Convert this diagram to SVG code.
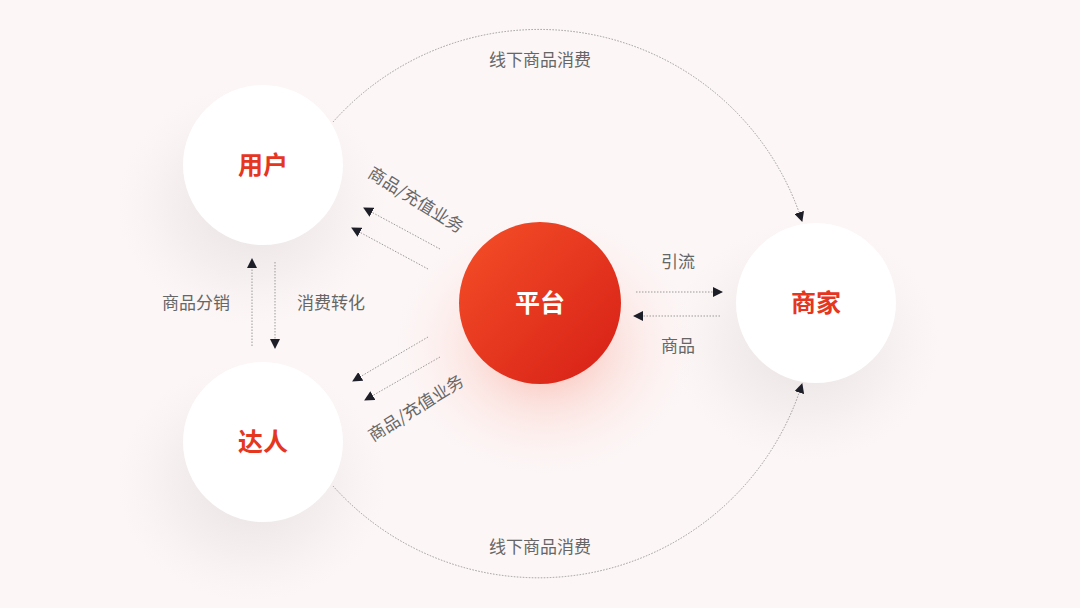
<svg xmlns="http://www.w3.org/2000/svg" width="1080" height="608" viewBox="0 0 1080 608">
<defs>
<style>
.lbl{font-family:"Noto Sans CJK SC","Noto Sans",sans-serif;font-size:17px;fill:#666;}
.node-txt{font-family:"Noto Sans CJK SC","Noto Sans",sans-serif;font-size:25px;font-weight:bold;fill:#e5361f;}
.line{fill:none;stroke:#9a9a9a;stroke-width:1;stroke-dasharray:1.5 1.5;}
.white{fill:#ffffff;}
</style>
<linearGradient id="red" x1="0" y1="0" x2="1" y2="1">
<stop offset="0" stop-color="#f54f28"/>
<stop offset="1" stop-color="#d61f16"/>
</linearGradient>
<radialGradient id="glow" cx="0.5" cy="0.5" r="0.5">
<stop offset="0" stop-color="#f8705a" stop-opacity="0.55"/>
<stop offset="0.5" stop-color="#fbb0a2" stop-opacity="0.25"/>
<stop offset="1" stop-color="#fde8e4" stop-opacity="0"/>
</radialGradient>
<radialGradient id="shadow" cx="0.5" cy="0.5" r="0.5">
<stop offset="0" stop-color="#d8cfcf" stop-opacity="0.6"/>
<stop offset="0.6" stop-color="#e6dede" stop-opacity="0.3"/>
<stop offset="1" stop-color="#f2eaea" stop-opacity="0"/>
</radialGradient>
<marker id="arr" viewBox="0 0 10 10" refX="9" refY="5" markerWidth="10" markerHeight="10" markerUnits="userSpaceOnUse" orient="auto">
<path d="M0,0 L10,5 L0,10 z" fill="#1e1e28"/>
</marker>
</defs>
<rect width="1080" height="608" fill="#fcf6f6"/>
<!-- shadows -->
<ellipse cx="252" cy="205" rx="135" ry="120" fill="url(#shadow)"/>
<ellipse cx="252" cy="482" rx="135" ry="120" fill="url(#shadow)"/>
<ellipse cx="805" cy="342" rx="135" ry="120" fill="url(#shadow)"/>
<ellipse cx="545" cy="345" rx="150" ry="130" fill="url(#glow)"/>
<g id="connectors">
<path class="line" d="M333,122 A276,276 0 0 1 802,221" marker-end="url(#arr)"/>
<path class="line" d="M333,486 A276,276 0 0 0 802,384" marker-end="url(#arr)"/>
<line class="line" x1="440" y1="249" x2="364" y2="208" marker-end="url(#arr)"/>
<line class="line" x1="428" y1="269" x2="352" y2="228" marker-end="url(#arr)"/>
<line class="line" x1="428" y1="337" x2="353" y2="381" marker-end="url(#arr)"/>
<line class="line" x1="440" y1="357" x2="365" y2="400" marker-end="url(#arr)"/>
<line class="line" x1="636" y1="292" x2="722" y2="292" marker-end="url(#arr)"/>
<line class="line" x1="720" y1="316" x2="634" y2="316" marker-end="url(#arr)"/>
<line class="line" x1="252" y1="346" x2="252" y2="259" marker-end="url(#arr)"/>
<line class="line" x1="275" y1="262" x2="275" y2="348" marker-end="url(#arr)"/>
</g>
<g id="labels">
<text class="lbl" x="540" y="66" text-anchor="middle">线下商品消费</text>
<text class="lbl" x="540" y="553" text-anchor="middle">线下商品消费</text>
<text class="lbl" x="416" y="206" text-anchor="middle" transform="rotate(32 416 200)">商品/充值业务</text>
<text class="lbl" x="416" y="414" text-anchor="middle" transform="rotate(-32 416 408)">商品/充值业务</text>
<text class="lbl" x="678" y="268" text-anchor="middle">引流</text>
<text class="lbl" x="678" y="352" text-anchor="middle">商品</text>
<text class="lbl" x="196" y="309" text-anchor="middle">商品分销</text>
<text class="lbl" x="331" y="309" text-anchor="middle">消费转化</text>
</g>
<g id="node-user">
<circle class="white" cx="263" cy="165" r="80"/>
<text class="node-txt" x="263" y="174" text-anchor="middle">用户</text>
</g>
<g id="node-daren">
<circle class="white" cx="263" cy="442" r="80"/>
<text class="node-txt" x="263" y="451" text-anchor="middle">达人</text>
</g>
<g id="node-platform">
<circle fill="url(#red)" cx="540" cy="303" r="81"/>
<text class="node-txt" x="540" y="312" text-anchor="middle" style="fill:#ffffff">平台</text>
</g>
<g id="node-merchant">
<circle class="white" cx="816" cy="303" r="80"/>
<text class="node-txt" x="816" y="312" text-anchor="middle">商家</text>
</g>
</svg>
